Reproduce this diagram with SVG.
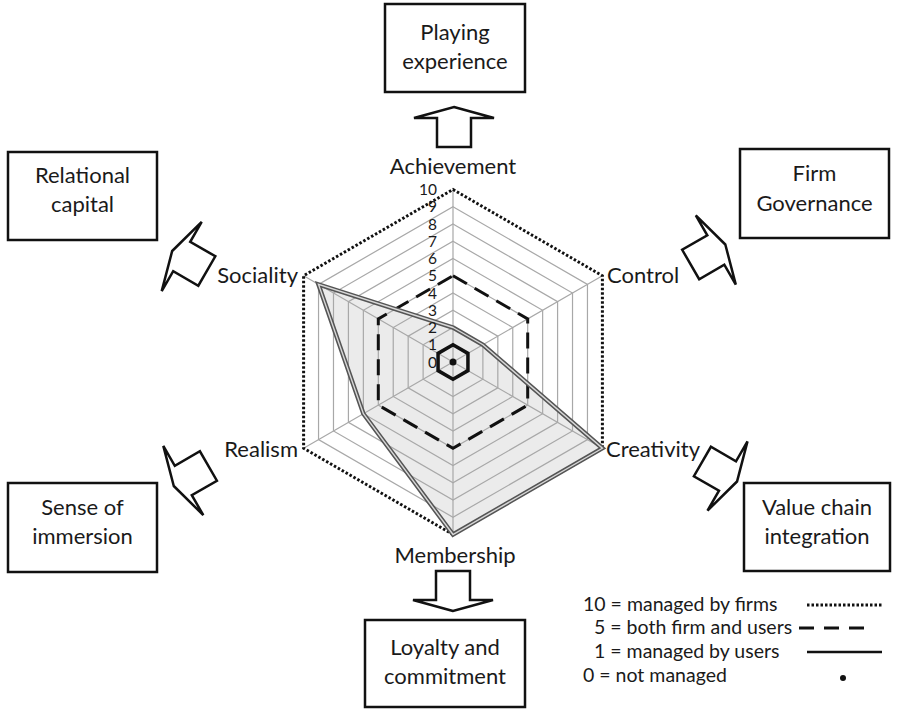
<svg xmlns="http://www.w3.org/2000/svg" width="897" height="713" viewBox="0 0 897 713">
<style>
text{font-family:Lato,"Liberation Sans",sans-serif;fill:#1a1a1a}
.lbl{font-size:22px}
.box{fill:#fff;stroke:#111;stroke-width:2.5}
.arr{fill:#fff;stroke:#111;stroke-width:2.5;stroke-linejoin:miter}
.grid{fill:none;stroke:#a8a8a8;stroke-width:1.2}
.num{font-size:15.5px;text-anchor:end}
.leg{font-size:19.5px}
</style>
<defs>
<path id="blk" d="M0,-11 L40,0 L17,0 L17,29 L-17,29 L-17,0 L-40,0 Z"/>
</defs>
<rect width="897" height="713" fill="#fff"/>

<g id="radar">
<polygon points="453,327.5 482.9,344.75 602.4,448.25 453,534.5 363.4,413.75 318.5,284.4" fill="#ebebeb"/>
<g class="grid">
<polygon points="453,344.75 467.94,353.38 467.94,370.63 453,379.25 438.06,370.63 438.06,353.38"/>
<polygon points="453,327.5 482.88,344.75 482.88,379.25 453,396.5 423.12,379.25 423.12,344.75"/>
<polygon points="453,310.25 497.82,336.13 497.82,387.88 453,413.75 408.18,387.88 408.18,336.13"/>
<polygon points="453,293 512.76,327.5 512.76,396.5 453,431 393.24,396.5 393.24,327.5"/>
<polygon points="453,275.75 527.7,318.88 527.7,405.13 453,448.25 378.3,405.13 378.3,318.88"/>
<polygon points="453,258.5 542.64,310.25 542.64,413.75 453,465.5 363.36,413.75 363.36,310.25"/>
<polygon points="453,241.25 557.58,301.63 557.58,422.38 453,482.75 348.42,422.38 348.42,301.63"/>
<polygon points="453,224 572.52,293 572.52,431 453,500 333.48,431 333.48,293"/>
<polygon points="453,206.75 587.46,284.38 587.46,439.63 453,517.25 318.54,439.63 318.54,284.38"/>
<path d="M453,362 V189.5 M453,362 L602.4,275.75 M453,362 L602.4,448.25 M453,362 V534.5 M453,362 L303.6,448.25 M453,362 L303.6,275.75"/>
</g>
<polygon points="453,189.5 602.4,275.75 602.4,448.25 453,534.5 303.6,448.25 303.6,275.75" fill="none" stroke="#111" stroke-width="3" stroke-dasharray="2.5 2"/>
<polygon points="453,275.75 527.7,318.88 527.7,405.13 453,448.25 378.3,405.13 378.3,318.88" fill="none" stroke="#111" stroke-width="3" stroke-dasharray="16 9"/>
<polygon points="453,344.75 467.94,353.38 467.94,370.63 453,379.25 438.06,370.63 438.06,353.38" fill="none" stroke="#111" stroke-width="3.5"/>
<polygon points="453,327.5 482.9,344.75 602.4,448.25 453,534.5 363.4,413.75 318.5,284.4" fill="none" stroke="#555" stroke-width="4.5" stroke-linejoin="miter"/>
<polygon points="453,327.5 482.9,344.75 602.4,448.25 453,534.5 363.4,413.75 318.5,284.4" fill="none" stroke="#d8d8d8" stroke-width="1.4"/>
<circle cx="453" cy="362" r="3.5" fill="#111"/>
<g class="num">
<text x="437" y="367.5">0</text>
<text x="437" y="350.3">1</text>
<text x="437" y="333">2</text>
<text x="437" y="315.8">3</text>
<text x="437" y="298.5">4</text>
<text x="437" y="281.3">5</text>
<text x="437" y="264">6</text>
<text x="437" y="246.8">7</text>
<text x="437" y="229.5">8</text>
<text x="437" y="212.3">9</text>
<text x="437" y="195">10</text>
</g>
</g>

<g id="axis-labels" class="lbl">
<text x="453" y="174" text-anchor="middle">Achievement</text>
<text x="607" y="283">Control</text>
<text x="606" y="457">Creativity</text>
<text x="455" y="563" text-anchor="middle">Membership</text>
<text x="298" y="457" text-anchor="end">Realism</text>
<text x="298" y="283" text-anchor="end">Sociality</text>
</g>

<g id="connectors">
<use href="#blk" class="arr" transform="translate(454,118)"/>
<use href="#blk" class="arr" transform="translate(453,600) rotate(180)"/>
<use href="#blk" class="arr" transform="translate(181.7,256.5) rotate(-60)"/>
<use href="#blk" class="arr" transform="translate(183.3,480.5) rotate(-120)"/>
<use href="#blk" class="arr" transform="translate(715.8,250) rotate(60)"/>
<use href="#blk" class="arr" transform="translate(727.5,476) rotate(120)"/>
</g>

<g id="playing-experience">
<rect class="box" x="385" y="4" width="140" height="88"/>
<text class="lbl" x="455" y="40" text-anchor="middle">Playing</text>
<text class="lbl" x="455" y="69" text-anchor="middle">experience</text>
</g>
<g id="relational-capital">
<rect class="box" x="8" y="152" width="149" height="88"/>
<text class="lbl" x="82.5" y="183" text-anchor="middle">Relational</text>
<text class="lbl" x="82.5" y="212" text-anchor="middle">capital</text>
</g>
<g id="firm-governance">
<rect class="box" x="740" y="149" width="149" height="89"/>
<text class="lbl" x="814.5" y="181" text-anchor="middle">Firm</text>
<text class="lbl" x="814.5" y="211" text-anchor="middle">Governance</text>
</g>
<g id="sense-of-immersion">
<rect class="box" x="8" y="483" width="149" height="89"/>
<text class="lbl" x="82.5" y="515" text-anchor="middle">Sense of</text>
<text class="lbl" x="82.5" y="544" text-anchor="middle">immersion</text>
</g>
<g id="value-chain-integration">
<rect class="box" x="744" y="483" width="146" height="88"/>
<text class="lbl" x="817" y="515" text-anchor="middle">Value chain</text>
<text class="lbl" x="817" y="544" text-anchor="middle">integration</text>
</g>
<g id="loyalty-and-commitment">
<rect class="box" x="365" y="620" width="160" height="87"/>
<text class="lbl" x="445" y="655" text-anchor="middle">Loyalty and</text>
<text class="lbl" x="445" y="684" text-anchor="middle">commitment</text>
</g>

<g id="legend" class="leg">
<text x="583" y="611">10 = managed by firms</text>
<text x="594" y="634">5 = both firm and users</text>
<text x="594" y="658">1 = managed by users</text>
<text x="583" y="682">0 = not managed</text>
<line x1="807" y1="605" x2="882" y2="605" stroke="#111" stroke-width="3" stroke-dasharray="2.5 2"/>
<line x1="799" y1="628" x2="873" y2="628" stroke="#111" stroke-width="3" stroke-dasharray="15 10"/>
<line x1="807" y1="652" x2="882" y2="652" stroke="#111" stroke-width="2.5"/>
<circle cx="843" cy="678" r="3" fill="#111"/>
</g>
</svg>
